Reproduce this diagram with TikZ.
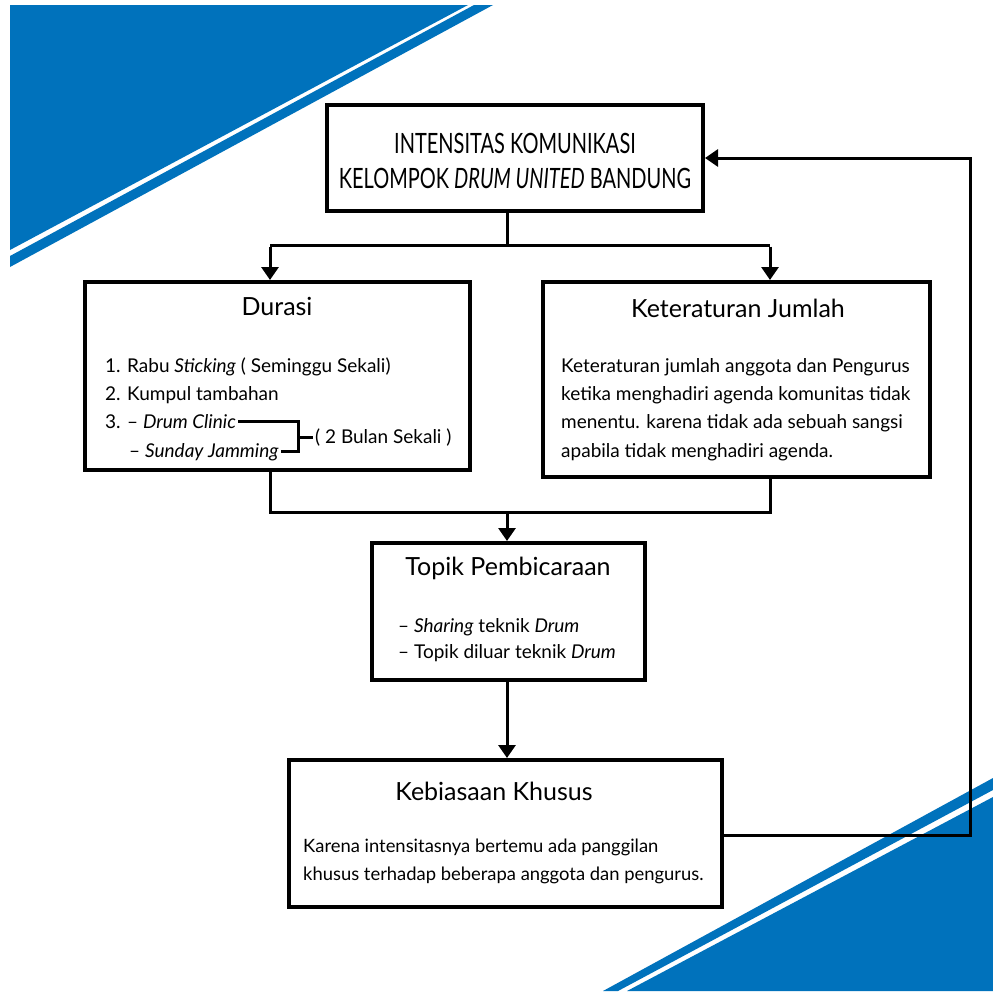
\documentclass[tikz,border=0pt]{standalone}
\usepackage{fontspec}
\setmainfont{Lato}
\usetikzlibrary{arrows.meta,calc}
\definecolor{bannerblue}{HTML}{0072BC}
\begin{document}
\begin{tikzpicture}[x=1pt,y=-1pt,
  box/.style={draw, line width=4pt, fill=white, inner sep=0pt},
  conn/.style={line width=3pt},
  arr/.style={line width=3pt, -{Triangle[length=13pt,width=17pt]}},
  head/.style={font=\fontsize{25}{29}\selectfont, anchor=base, inner sep=0pt},
  body/.style={font=\fontsize{19}{22}\selectfont, anchor=base west, inner sep=0pt},
  bodysm/.style={body, font=\fontsize{18.4}{22}\selectfont},
  ttl/.style={font=\fontsize{20}{24}\selectfont, anchor=base, inner sep=0pt},
]
\useasboundingbox (0,0) rectangle (993,991);
\fill[white] (0,0) rectangle (993,991);
% banner corners
\fill[bannerblue] (10,5) -- (468,5) -- (10,250) -- cycle;
\fill[bannerblue] (474,5) -- (493,5) -- (10,267) -- (10,256) -- cycle;
\fill[bannerblue] (993,797) -- (993,991) -- (627,991) -- cycle;
\fill[bannerblue] (993,778) -- (993,790) -- (618,991) -- (603,991) -- cycle;

% boxes
\node[box, minimum width=376pt, minimum height=106pt] (title) at (515,158) {};
\node[box, minimum width=385pt, minimum height=188pt] (durasi) at (277.5,376) {};
\node[box, minimum width=387pt, minimum height=195pt] (keter) at (736.5,379.5) {};
\node[box, minimum width=273pt, minimum height=137pt] (topik) at (508.5,611.5) {};
\node[box, minimum width=433pt, minimum height=147pt] (kebi) at (505,833.5) {};

% title text
\node[ttl] (t1) at (515,153) {\scalebox{1}[1.4]{INTENSITAS KOMUNIKASI}};
\node[ttl] (t2) at (515,188) {\scalebox{1}[1.4]{KELOMPOK \textit{DRUM UNITED} BANDUNG}};

% Durasi
\node[head] (dh) at (277,315) {Durasi};
\node[body] (d1) at (105,372) {1. Rabu \textit{Sticking} ( Seminggu Sekali)};
\node[body] (d2) at (105,400) {2. Kumpul tambahan};
\node[body] (d3) at (105,428) {3. – \textit{Drum Clinic}};
\node[body] (d4) at (129,457) {– \textit{Sunday Jamming}};
\node[body] (bl) at (315,443) {( 2 Bulan Sekali )};
\coordinate (bk) at (298,0);
\draw[conn] ([xshift=2pt]d3.east) -- (d3.east -| bk) -- (d4.east -| bk) -- ([xshift=2pt]d4.east);
\draw[conn] (bl.west -| bk) -- ([xshift=-2pt]bl.west);

% Keteraturan
\node[head] (kh) at (738,317) {Keteraturan Jumlah};
\node[body] (k1) at (561,372) {Keteraturan jumlah anggota dan Pengurus};
\node[body] (k2) at (561,400) {ketika menghadiri agenda komunitas tidak};
\node[body] (k3) at (561,428) {menentu. karena tidak ada sebuah sangsi};
\node[body] (k4) at (561,457) {apabila tidak menghadiri agenda.};

% Topik
\node[head] (th) at (508,575) {Topik Pembicaraan};
\node[body] (p1) at (398,632) {– \textit{Sharing} teknik \textit{Drum}};
\node[body] (p2) at (398,658) {– Topik diluar teknik \textit{Drum}};

% Kebiasaan
\node[head] (bh) at (494,800) {Kebiasaan Khusus};
\node[bodysm] (b1) at (303,852) {Karena intensitasnya bertemu ada panggilan};
\node[bodysm] (b2) at (303,880) {khusus terhadap beberapa anggota dan pengurus.};

% connectors
\coordinate (j1) at (507,245);
\coordinate (jL) at (270,245);
\coordinate (jR) at (770,245);
\draw[conn] (title.south -| j1) -- (j1);
\draw[conn] (jL) -- (jR);
\draw[arr] ([yshift=-1.5pt]jL) -- (durasi.north -| jL);
\draw[arr] ([yshift=-1.5pt]jR) -- (keter.north -| jR);

\coordinate (m1) at (270,512);
\coordinate (m2) at (770,512);
\coordinate (m3) at (507,512);
\draw[conn] (durasi.south -| m1) -- (m1) -- (m2) -- (keter.south -| m2);
\draw[arr] ([yshift=-1.5pt]m3) -- (topik.north -| m3);
\draw[arr] (topik.south -| m3) -- (kebi.north -| m3);

\coordinate (f1) at (970,835);
\coordinate (f2) at (970,158);
\draw[arr] (kebi.east |- f1) -- (f1) -- (f2) -- (title.east |- f2);
\end{tikzpicture}
\end{document}
